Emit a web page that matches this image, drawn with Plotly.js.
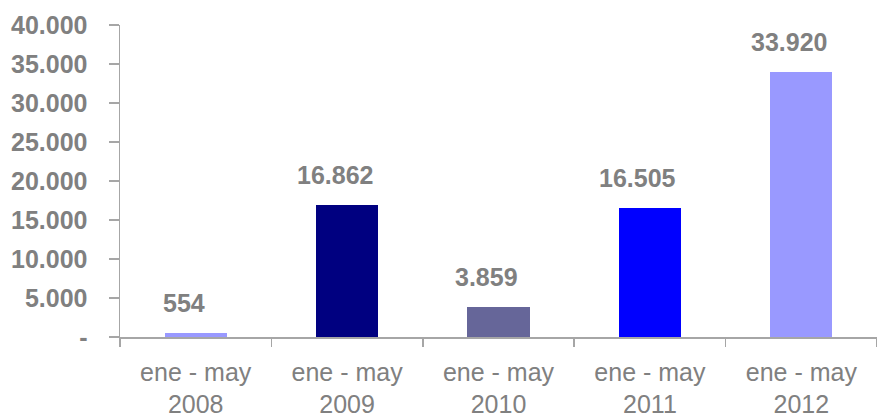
<!DOCTYPE html>
<html>
<head>
<meta charset="utf-8">
<script src="https://cdn.plot.ly/plotly-3.0.1.min.js"></script>
<style>html,body{margin:0;padding:0;background:#fff;}#chart{width:877px;height:419px;}</style>
</head>
<body>
<div id="chart"></div>
<script>
const categories = ["ene - may<br>2008", "ene - may<br>2009", "ene - may<br>2010", "ene - may<br>2011", "ene - may<br>2012"];
const values = [554, 16862, 3859, 16505, 33920];
const valueLabels = ["554", "16.862", "3.859", "16.505", "33.920"];
const barColors = ["#9999ff", "#000080", "#666699", "#0000ff", "#9999ff"];
const yTickVals = [0, 5000, 10000, 15000, 20000, 25000, 30000, 35000, 40000];
const yTickText = ["-", "5.000", "10.000", "15.000", "20.000", "25.000", "30.000", "35.000", "40.000"];

const gray = "#808080";
const axisGray = "#a6a6a6";
const font = "Liberation Sans, Arial, sans-serif";

const trace = {
  type: "bar",
  x: categories,
  y: values,
  width: 0.41,
  marker: { color: barColors },
  hoverinfo: "none"
};

const annotations = categories.map((c, i) => ({
  x: c, y: values[i], xref: "x", yref: "y",
  text: "<b>" + valueLabels[i] + "</b>",
  showarrow: false, yanchor: "middle", xanchor: "center",
  yshift: 30, xshift: -12,
  font: { family: font, size: 25, color: gray }
}));

const layout = {
  width: 877, height: 419,
  margin: { l: 120, r: 0, t: 25, b: 82 },
  paper_bgcolor: "#ffffff", plot_bgcolor: "#ffffff",
  showlegend: false,
  bargap: 0,
  xaxis: {
    type: "category",
    showline: true, linecolor: axisGray, linewidth: 1.5,
    ticks: "outside", tickson: "boundaries", ticklen: 8, tickcolor: axisGray, tickwidth: 1.5,
    showgrid: false, zeroline: false,
    tickfont: { family: font, size: 25, color: gray },
    ticklabelstandoff: 12,
    fixedrange: true
  },
  yaxis: {
    range: [0, 40000],
    showline: true, linecolor: axisGray, linewidth: 1.5,
    ticks: "outside", ticklen: 10, tickcolor: axisGray, tickwidth: 1.5,
    tickvals: yTickVals, ticktext: yTickText,
    tickfont: { family: font, size: 25, color: gray, weight: "bold" },
    ticklabelstandoff: 16,
    showgrid: false, zeroline: false,
    fixedrange: true
  },
  annotations: annotations
};

Plotly.newPlot("chart", [trace], layout, { displayModeBar: false, staticPlot: true });
</script>
</body>
</html>
